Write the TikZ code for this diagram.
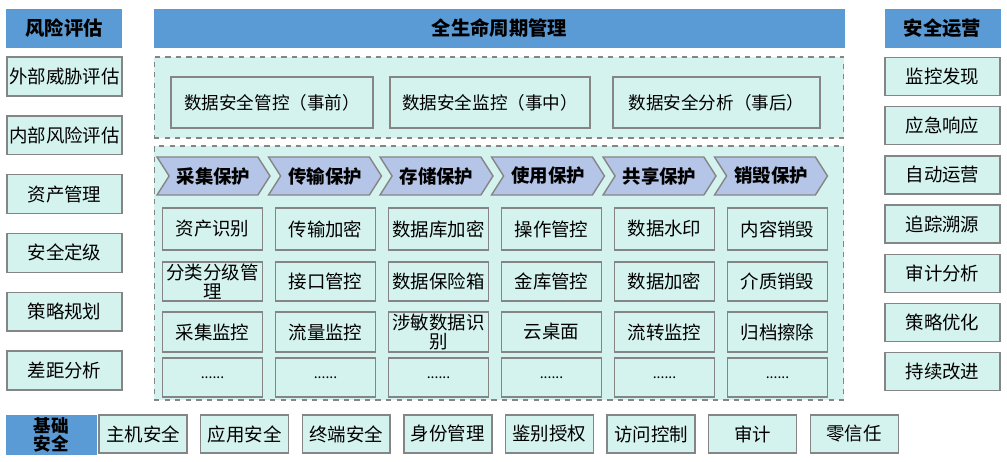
\documentclass[tikz,border=0pt]{standalone}
\usepackage{fontspec}
\setmainfont{Noto Sans CJK SC}
\usetikzlibrary{shapes.symbols}
\definecolor{headblue}{HTML}{5B9BD5}
\definecolor{boxcyan}{HTML}{D5F3EE}
\definecolor{stagepurple}{HTML}{B4C5E8}
\definecolor{edgegray}{HTML}{858585}
\newcommand{\moredots}{......}

\begin{document}
\begin{tikzpicture}
        [
        x = 0.02cm, y = -0.02cm,
        head/.style = {fill=headblue, inner sep=0pt, align=center, font=\fontsize{11}{12.5}\selectfont\bfseries},
        item box/.style = {draw=edgegray, fill=boxcyan, line width=0.8pt, inner sep=0pt, align=center, font=\fontsize{10.5}{10.5}\selectfont},
        zone/.style = {draw=edgegray, fill=boxcyan, dashed, line width=0.6pt, inner sep=0pt},
        stage/.style = {signal, signal to=east, signal from=west, signal pointer angle=115, draw=edgegray, fill=stagepurple, line width=0.8pt, inner sep=0pt, minimum width=2.26cm, minimum height=0.76cm, font=\fontsize{10.5}{12}\selectfont\bfseries},
        ]
        \useasboundingbox (0,0) rectangle (1007,462);

        % headers
        \node[head, minimum width=2.32cm, minimum height=0.78cm] (risk) at (64,28.5) {风险评估};
        \node[head, minimum width=13.82cm, minimum height=0.78cm] (life) at (499.5,28.5) {全生命周期管理};
        \node[head, minimum width=2.32cm, minimum height=0.78cm] (ops) at (942.5,28.5) {安全运营};

        % left column
        \foreach \t [count=\i] in {外部威胁评估, 内部风险评估, 资产管理, 安全定级, 策略规划, 差距分析}
            \node[item box, minimum width=2.3cm, minimum height=0.78cm] (risk\i) at (64.5,{76.5+58.8*(\i-1)}) {\t};

        % right column
        \foreach \t [count=\i] in {监控发现, 应急响应, 自动运营, 追踪溯源, 审计分析, 策略优化, 持续改进}
            \node[item box, minimum width=2.3cm, minimum height=0.76cm] (ops\i) at (942.5,{76.5+49.2*(\i-1)}) {\t};

        % dashed zones
        \node[zone, minimum width=13.8cm, minimum height=1.62cm] (zoneA) at (499,97.5) {};
        \node[zone, minimum width=13.8cm, minimum height=5.08cm] (zoneB) at (499,273) {};

        \node[item box, minimum width=4.04cm, minimum height=1.02cm, font=\fontsize{10}{12}\selectfont] (pre) at (272,102.5) {数据安全管控（事前）};
        \node[item box, minimum width=4.0cm, minimum height=1.02cm, font=\fontsize{10}{12}\selectfont] (mid) at (490,102.5) {数据安全监控（事中）};
        \node[item box, minimum width=4.14cm, minimum height=1.02cm, font=\fontsize{10}{12}\selectfont] (post) at (716.5,102.5) {数据安全分析（事后）};

        % stages
        \foreach \t [count=\i] in {采集保护, 传输保护, 存储保护, 使用保护, 共享保护, 销毁保护}
            \node[stage] (stage\i) at ({213.5+111.5*(\i-1)},176) {\t};

        % grid of measures
        \foreach \a/\b/\c [count=\i] in {资产识别/{分类分级管\\理}/采集监控,
                                         传输加密/接口管控/流量监控,
                                         数据库加密/数据保险箱/{涉敏数据识\\别},
                                         操作管控/金库管控/云桌面,
                                         数据水印/数据加密/流转监控,
                                         内容销毁/介质销毁/归档擦除}
        {
            \node[item box, minimum width=2cm, minimum height=0.84cm] (m\i a) at ({212.5+113*(\i-1)},229) {\a};
            \node[item box, minimum width=2cm, minimum height=0.78cm] (m\i b) at ({212.5+113*(\i-1)},281.5) {\b};
            \node[item box, minimum width=2cm, minimum height=0.8cm] (m\i c) at ({212.5+113*(\i-1)},332) {\c};
            \node[item box, minimum width=2cm, minimum height=0.78cm, font=\fontsize{8}{9}\selectfont] (m\i d) at ({212.5+113*(\i-1)},377.5) {\moredots};
        }

        % base
        \node[head, minimum width=1.82cm, minimum height=0.8cm, font=\fontsize{10}{10.5}\selectfont\bfseries] (base) at (51.5,435) {基础\\安全};
        \foreach \t [count=\i] in {主机安全, 应用安全, 终端安全, 身份管理, 鉴别授权, 访问控制, 审计, 零信任}
            \node[item box, minimum width=1.76cm, minimum height=0.76cm] (base\i) at ({143+101.6*(\i-1)},434) {\t};
    \end{tikzpicture}
\end{document}
